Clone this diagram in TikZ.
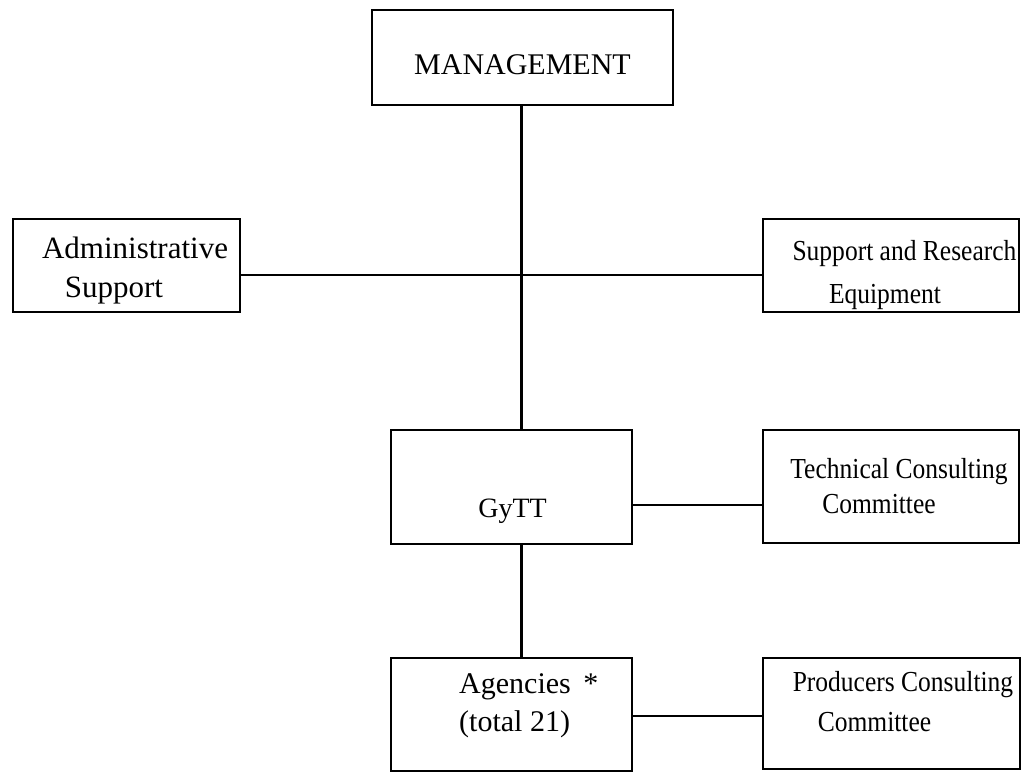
\documentclass[tikz,border=0pt]{standalone}
\usepackage{fontspec}
\setmainfont{Liberation Serif}
\newfontfamily\condfont[FakeStretch=0.88]{Liberation Serif}
\begin{document}
\begin{tikzpicture}[x=1pt,y=-1pt,
  box/.style={draw, line width=2pt, inner sep=0pt, outer sep=0pt},
  vline/.style={line width=3pt},
  hline/.style={line width=1.6pt},
  txt/.style={anchor=base, inner sep=0pt, font=\fontsize{30}{36}\selectfont},
  ctxt/.style={anchor=base, inner sep=0pt, font=\condfont\fontsize{29}{35}\selectfont}]
\path[fill=white, use as bounding box] (0,0) rectangle (1022,773);
% boxes
\node[box, minimum width=301pt, minimum height=95pt] (mg) at (522.5,57.5) {};
\node[box, minimum width=227pt, minimum height=93pt] (ad) at (126.5,265.5) {};
\node[box, minimum width=256pt, minimum height=93pt] (sr) at (891,265.5) {};
\node[box, minimum width=241pt, minimum height=114pt] (gy) at (511.5,487) {};
\node[box, minimum width=256pt, minimum height=113pt] (tc) at (891,486.5) {};
\node[box, minimum width=241pt, minimum height=113pt] (ag) at (511.5,714.5) {};
\node[box, minimum width=257pt, minimum height=111pt] (pc) at (891.5,713.5) {};
% texts
\node[txt] (t1) at (522.5,75) {MANAGEMENT};
\node[txt, font=\fontsize{31}{36}\selectfont] (t2) at (135,258) {Administrative};
\node[txt, font=\fontsize{31}{36}\selectfont] (t3) at (114,297) {Support};
\node[ctxt] (t4) at (904.5,260) {Support and Research};
\node[ctxt] (t5) at (885,303) {Equipment};
\node[txt, font=\fontsize{28}{34}\selectfont] (t6) at (512.5,517) {GyTT};
\node[ctxt] (t7) at (899,478) {Technical Consulting};
\node[ctxt] (t8) at (879,513) {Committee};
\node[txt, anchor=base west] (t9) at (459,693) {Agencies\,\ *};
\node[txt, anchor=base west] (t10) at (459,731) {(total 21)};
\node[ctxt] (t11) at (903,691) {Producers Consulting};
\node[ctxt] (t12) at (874.5,731) {Committee};
% connectors
\coordinate (sp) at (521,0);
\coordinate (h1) at (0,275);
\coordinate (h2) at (0,505);
\coordinate (h3) at (0,716);
\draw[vline] (mg.south -| sp) -- (gy.north -| sp);
\draw[vline] (gy.south -| sp) -- (ag.north -| sp);
\draw[hline] (ad.east |- h1) -- (sr.west |- h1);
\draw[hline] (gy.east |- h2) -- (tc.west |- h2);
\draw[hline] (ag.east |- h3) -- (pc.west |- h3);
\end{tikzpicture}
\end{document}
